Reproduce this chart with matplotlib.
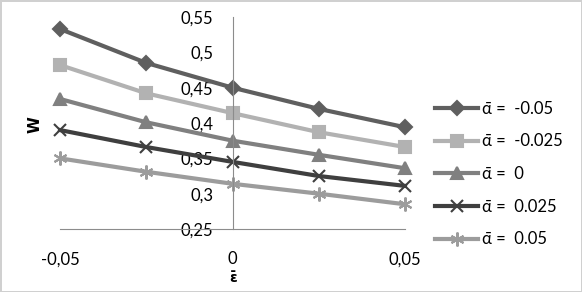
import matplotlib.pyplot as plt

plt.rcParams['font.family'] = ['Lato', 'DejaVu Sans']

eps = [-0.05, -0.025, 0, 0.025, 0.05]
w_m050 = [0.533, 0.485, 0.450, 0.420, 0.394]
w_m025 = [0.482, 0.442, 0.414, 0.387, 0.366]
w_0 = [0.434, 0.401, 0.375, 0.355, 0.336]
w_p025 = [0.390, 0.366, 0.345, 0.325, 0.311]
w_p050 = [0.350, 0.331, 0.314, 0.300, 0.285]
labels = ['\u03b1\u0304 =  -0.05', '\u03b1\u0304 =  -0.025', '\u03b1\u0304 =  0',
          '\u03b1\u0304 =  0.025', '\u03b1\u0304 =  0.05']

series = [w_m050, w_m025, w_0, w_p025, w_p050]
colors = ['#5f5f5f', '#b2b2b2', '#808080', '#3f3f3f', '#9c9c9c']
markers = ['D', 's', '^', 'x', (6, 2, 0)]
msizes = [7, 9, 8, 9, 10]

fig = plt.figure(figsize=(5.82, 2.92), dpi=100, edgecolor='#d0d0d0', linewidth=2)
ax = fig.add_axes([60 / 582, 63 / 292, 345 / 582, 212 / 292])

for ys, c, m, ms, lab in zip(series, colors, markers, msizes, labels):
    ax.plot(eps, ys, color=c, lw=3, marker=m, ms=ms, mew=1.5, mec=c, mfc=c, label=lab)

ax.set_xlim(-0.05, 0.05)
ax.set_ylim(0.25, 0.55)
ax.set_xticks([-0.05, 0, 0.05])
ax.set_xticklabels(['-0,05', '0', '0,05'])
ax.set_yticks([0.25, 0.3, 0.35, 0.4, 0.45, 0.5, 0.55])
ax.set_yticklabels(['0,25', '0,3', '0,35', '0,4', '0,45', '0,5', '0,55'])

for s in ['top', 'right']:
    ax.spines[s].set_visible(False)
ax.spines['left'].set_position(('data', 0))
ax.spines['left'].set_color('#8c8c8c')
ax.spines['bottom'].set_color('#8c8c8c')
ax.tick_params(length=0, labelsize=12)
ax.tick_params(axis='y', pad=14)
ax.tick_params(axis='x', pad=16)
for ln in ax.lines:
    ln.set_clip_on(False)

fig.text(35 / 582, 1 - 125 / 292, 'W', rotation=90, fontsize=11, fontweight='bold',
         family='DejaVu Sans', ha='center', va='center')
fig.text(233 / 582, 1 - 285 / 292, '\u03b5\u0304', fontsize=10, fontweight='bold',
         family='DejaVu Sans', ha='center', va='bottom')

fig.legend(loc='center left', bbox_to_anchor=(420 / 582, 1 - 174 / 292), frameon=False,
           fontsize=12, handlelength=2.6, labelspacing=1.0, handletextpad=0.2)

fig.savefig('out.png', dpi=100)
